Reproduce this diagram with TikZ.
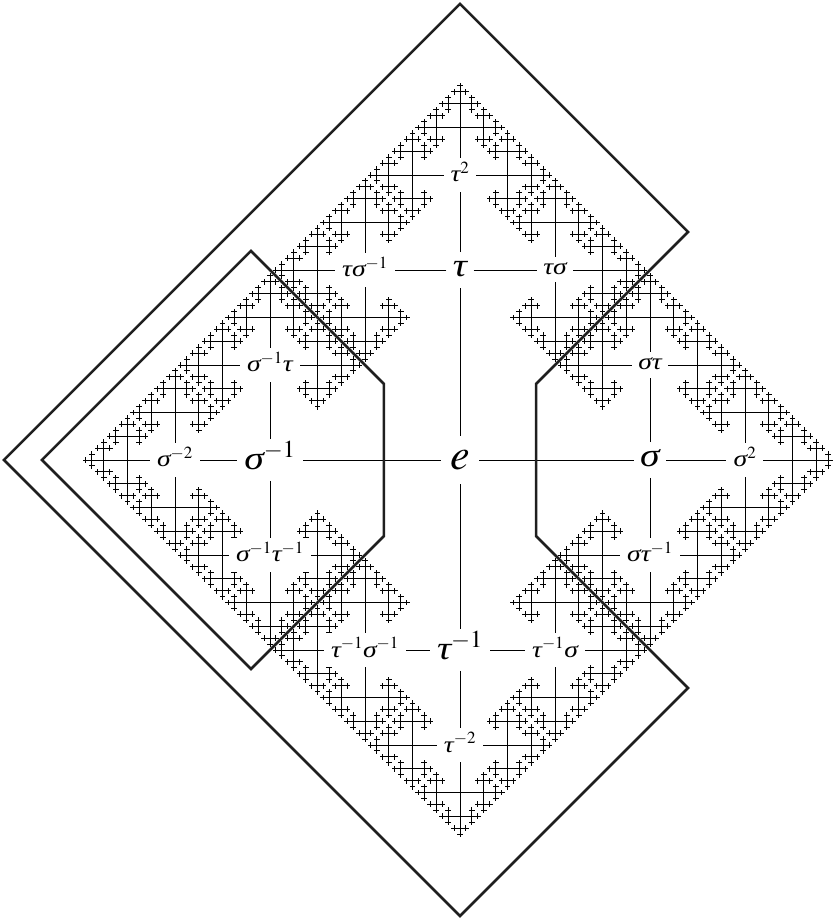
\documentclass[tikz,border=0pt]{standalone}
\usepackage{amsmath,amssymb}
\usepackage{mathptmx}
\usepackage{fontspec}
\setmainfont{Liberation Serif}
\newfontface\greekface[FakeStretch=1.2]{Liberation Serif Italic}
\usepackage{tikz}

\newcommand{\sg}{\text{\greekface σ}}
\newcommand{\ta}{\text{\greekface τ}}
\newcommand{\growedge}[5]{%
  \pgfmathsetmacro\tipx{#1+#3}\pgfmathsetmacro\tipy{#2+#4}%
  \draw (#1,#2) -- (\tipx,\tipy);
  \pgfmathsetmacro\halfx{#3/2}\pgfmathsetmacro\halfy{#4/2}%
  \edef\gonext{\noexpand\growtree{\tipx}{\tipy}{\halfx}{\halfy}{#5}}\gonext}
\newcommand{\growtree}[5]{%
  \ifnum#5>0\relax
    \pgfmathtruncatemacro\lowlevel{#5-1}%
    \pgfmathsetmacro\backx{-(#3)}\pgfmathsetmacro\backy{-(#4)}%
    \edef\gothree{%
      \noexpand\growedge{#1}{#2}{#3}{#4}{\lowlevel}%
      \noexpand\growedge{#1}{#2}{#4}{#3}{\lowlevel}%
      \noexpand\growedge{#1}{#2}{\backy}{\backx}{\lowlevel}}\gothree
  \fi}

\begin{document}
\begin{tikzpicture}[x=95pt,y=95pt,line width=0.9pt,
    rootvertex/.style={fill=white,text height=26pt,text depth=6pt,inner xsep=9pt,inner ysep=8pt,font=\fontsize{44}{46}\selectfont},
    firstvertex/.style={fill=white,text height=17pt,text depth=4pt,inner xsep=6pt,inner ysep=7pt,font=\fontsize{33}{35}\selectfont},
    firstsup/.style={firstvertex,text height=26pt,text depth=7pt,inner xsep=7pt,inner ysep=4pt},
    secondvertex/.style={fill=white,text height=11pt,text depth=2pt,inner xsep=6pt,inner ysep=6pt,font=\fontsize{23}{25}\selectfont},
    secondsup/.style={secondvertex,text height=18pt,text depth=4pt,inner xsep=7pt},
    piece/.style={line width=2.5pt,draw=black!88}]
  \useasboundingbox (-4.842,-4.821) rectangle (3.926,4.842);
  \foreach \vx/\vy/\ux/\uy in {3/0/0.5/0,2/1/0/0.5,2/-1/0/-0.5,0/3/0/0.5,1/2/0.5/0,-1/2/-0.5/0,
    -3/0/-0.5/0,-2/1/0/0.5,-2/-1/0/-0.5,0/-3/0/-0.5,1/-2/0.5/0,-1/-2/-0.5/0}
    \growtree{\vx}{\vy}{\ux}{\uy}{5}
  \node[rootvertex] (e) at (0,0) {$e$};
  \node[firstvertex] (sigma) at (2,0) {$\sg$};
  \node[firstvertex] (tau) at (0,2) {$\ta$};
  \node[firstsup] (sigmainv) at (-2,0) {$\sg^{-1}$};
  \node[firstsup] (tauinv) at (0,-2) {$\ta^{-1}$};
  \node[secondsup] (sigmasq) at (3,0) {$\sg^{2}$};
  \node[secondvertex] (sigmatau) at (2,1) {$\sg\ta$};
  \node[secondsup] (sigmatauinv) at (2,-1) {$\sg\ta^{-1}$};
  \node[secondsup] (tausq) at (0,3) {$\ta^{2}$};
  \node[secondvertex] (tausigma) at (1,2) {$\ta\sg$};
  \node[secondsup] (tausigmainv) at (-1,2) {$\ta\sg^{-1}$};
  \node[secondsup] (sigmasqinv) at (-3,0) {$\sg^{-2}$};
  \node[secondsup] (sigmainvtau) at (-2,1) {$\sg^{-1}\ta$};
  \node[secondsup] (sigmainvtauinv) at (-2,-1) {$\sg^{-1}\ta^{-1}$};
  \node[secondsup] (tausqinv) at (0,-3) {$\ta^{-2}$};
  \node[secondsup] (tauinvsigma) at (1,-2) {$\ta^{-1}\sg$};
  \node[secondsup] (tauinvsigmainv) at (-1,-2) {$\ta^{-1}\sg^{-1}$};
  \foreach \i in {sigma,tau,sigmainv,tauinv} \draw (e)--(\i);
  \foreach \i/\j in {sigma/sigmasq,sigma/sigmatau,sigma/sigmatauinv,tau/tausq,tau/tausigma,tau/tausigmainv,
    sigmainv/sigmasqinv,sigmainv/sigmainvtau,sigmainv/sigmainvtauinv,tauinv/tausqinv,tauinv/tauinvsigma,tauinv/tauinvsigmainv}
    \draw (\i)--(\j);
  \draw[piece] (-4.8,0)--(0,4.8)--(2.4,2.4)--(0.8,0.8)--(0.8,-0.8)--(2.4,-2.4)--(0,-4.8)--cycle;
  \draw[piece] (-4.4,0)--(-2.2,2.2)--(-0.8,0.8)--(-0.8,-0.8)--(-2.2,-2.2)--cycle;
\end{tikzpicture}
\end{document}
